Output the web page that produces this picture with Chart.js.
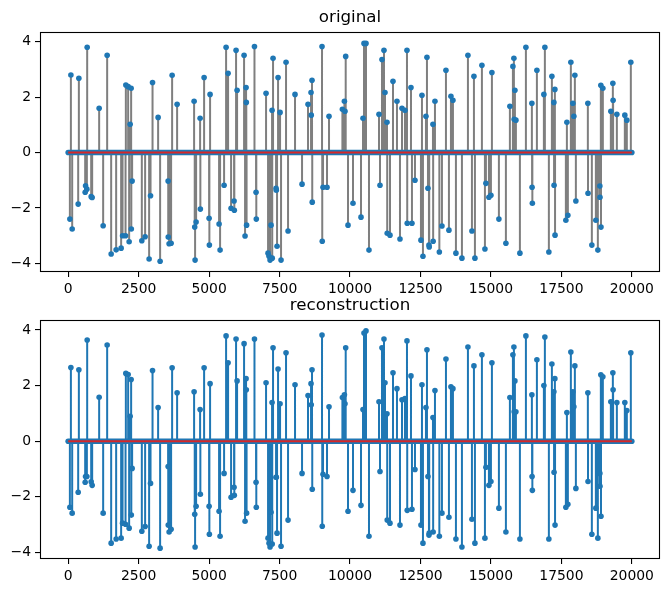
<!DOCTYPE html>
<html><head><meta charset="utf-8">
<script src="https://cdn.jsdelivr.net/npm/chart.js@4.4.0/dist/chart.umd.min.js"></script>
<style>
html,body{margin:0;padding:0;background:#fff;width:670px;height:592px;overflow:hidden}
canvas{position:absolute;left:0}
</style></head><body>
<canvas id="c1" width="670" height="300" style="top:2px"></canvas>
<canvas id="c2" width="670" height="299" style="top:290px"></canvas>
<script>
// ---- data ----
const signalStart = 0;
const signalEnd = 19999;
const xTicks = [0, 2500, 5000, 7500, 10000, 12500, 15000, 17500, 20000];
const yTicks = [-4, -2, 0, 2, 4];
const titles = ["original", "reconstruction"];

const spikeIndex = [
  60,96,142,355,379,603,617,663,674,816,851,1099,1241,1383,1525,1702,1879,1929,2035,2046,2128,2163,2199,2234,2240,2269,2613,2730,2872,2922,2993,
  3191,3262,3546,3550,3581,3652,3688,3865,4468,4490,4503,4539,4681,4690,4823,5000,5010,5035,5354,5390,5532,5603,5674,5780,5886,5895,5957,5993,6241,6276,6312,6320,6330,
  6610,6666,6675,7021,7092,7127,7163,7198,7234,7240,7269,7376,7385,7411,7447,7518,7553,7730,7801,8049,8298,8510,8617,8625,8652,8660,9007,9015,9042,9184,9255,9730,9801,9822,9847,
  9929,10106,10390,10461,10496,10567,10673,11028,11064,11134,11205,11241,11312,11320,11418,11525,11666,11773,11844,11950,12021,12030,12163,12198,12305,12517,12553,12588,12695,12730,12766,12801,12810,12943,12950,13014,13170,
  13262,13404,13510,13581,13652,13758,13971,14184,14326,14397,14432,14680,14787,14822,14929,15000,15035,15283,15531,15673,15780,15815,15825,15851,15886,16028,16241,16453,16460,16470,
  16631,16879,16914,17056,17163,17234,17240,17269,17275,17659,17695,17730,17836,17907,17943,17978,18014,18439,18445,18581,18723,18794,18865,18870,18900,18905,18971,19255,19326,19335,19468,19751,19822,19964
];

const originalValues = [
  -2.40,2.80,-2.76,-1.86,2.68,-1.43,-1.20,-1.32,3.80,-1.59,-1.62,1.60,-2.64,3.51,-3.66,-3.51,-3.45,-3.00,-3.00,2.44,2.38,-3.22,1.02,2.32,-2.76,-1.03,-3.18,-3.04,-3.84,-1.56,2.53,
  1.27,-3.92,-1.03,-3.05,-3.29,-3.27,2.79,1.74,1.85,-2.69,-3.88,-2.51,1.24,-2.04,2.71,-2.37,-3.34,2.10,-2.58,-3.52,-1.18,3.80,2.86,-2.01,-1.75,-2.08,3.69,2.25,3.51,-3.01,2.35,1.81,-2.62,
  3.83,-1.43,-2.40,2.14,-3.63,-3.74,-3.88,-2.62,1.53,-3.81,3.40,-1.29,-1.36,-3.38,2.71,1.45,-3.88,3.26,-2.83,2.10,-1.14,1.74,2.17,1.35,2.61,-1.79,3.83,-3.20,-1.25,-1.25,1.31,1.56,1.85,1.49,3.47,
  -2.62,-1.83,-2.33,1.24,3.94,3.94,-3.52,1.38,-1.18,3.36,3.69,2.17,1.09,-2.91,-2.98,2.57,1.85,-3.12,1.60,1.53,3.69,-2.55,2.35,-2.55,-1.00,-3.16,2.07,-3.74,1.31,3.44,-1.29,-3.34,-3.41,1.02,-3.20,1.85,-3.59,
  -2.65,2.97,-2.80,2.03,1.89,-3.63,-3.81,3.51,-2.83,2.75,-3.81,3.15,-3.48,-1.11,-1.61,-1.54,2.89,-2.40,-3.27,1.67,3.11,3.40,1.20,2.25,1.17,-3.63,3.80,1.78,-1.25,-1.83,
  2.97,2.10,3.80,-3.59,2.75,1.81,-1.18,2.28,-2.98,-2.44,1.09,-2.26,3.26,1.78,1.31,2.79,-1.75,1.78,-1.47,-3.34,-2.44,-3.52,-1.21,-1.61,2.43,-2.69,2.32,1.49,2.50,1.89,1.38,1.35,1.17,3.26
];

const reconstructionValues = [
  -2.38,2.65,-2.59,-1.84,2.57,-1.48,-1.27,-1.27,3.64,-1.46,-1.59,1.58,-2.59,3.46,-3.67,-3.52,-3.49,-2.95,-2.99,2.44,2.40,-3.13,0.90,2.22,-2.66,-0.98,-3.24,-3.07,-3.78,-1.52,2.54,
  1.21,-3.85,-0.91,-3.02,-3.27,-3.17,2.64,1.74,1.78,-2.63,-3.81,-2.34,1.14,-1.91,2.64,-2.34,-3.35,2.07,-2.52,-3.42,-1.16,3.79,2.82,-2.02,-1.66,-1.95,3.68,2.17,3.51,-2.88,2.25,1.85,-2.59,
  3.68,-1.48,-2.38,2.10,-3.49,-3.67,-3.81,-2.56,1.39,-3.70,3.36,-1.30,-1.30,-3.31,2.60,1.35,-3.78,3.18,-2.84,2.03,-1.16,1.64,2.07,1.31,2.57,-1.73,3.82,-3.06,-1.19,-1.27,1.24,1.57,1.67,1.35,3.36,
  -2.52,-1.77,-2.31,1.14,3.89,3.97,-3.42,1.42,-1.09,3.36,3.68,2.10,0.99,-2.84,-2.95,2.46,1.89,-3.02,1.49,1.53,3.61,-2.49,2.35,-2.45,-1.02,-3.02,2.03,-3.67,1.21,3.29,-1.27,-3.38,-3.31,0.85,-3.27,1.82,-3.42,
  -2.59,2.96,-2.74,1.96,1.89,-3.52,-3.81,3.39,-2.81,2.71,-3.67,3.11,-3.49,-0.94,-1.59,-1.45,2.82,-2.41,-3.27,1.57,3.11,3.39,1.06,2.17,1.06,-3.52,3.79,1.67,-1.27,-1.77,
  2.93,2.00,3.75,-3.52,2.78,1.78,-1.12,2.25,-3.02,-2.38,1.03,-2.27,3.21,1.78,1.24,2.71,-1.70,1.74,-1.45,-3.35,-2.41,-3.49,-1.16,-1.62,2.39,-2.70,2.32,1.42,2.46,1.85,1.39,1.39,1.10,3.18
];

// ---- styling ----
const BLUE = '#1f77b4', GREY = '#7f7f7f', RED = '#d62728';
const FONT = 'DejaVu Sans';

const framePlugin = {
  id: 'frame',
  afterDraw(chart) {
    const a = chart.chartArea, ctx = chart.ctx;
    ctx.save();
    ctx.strokeStyle = '#000';
    ctx.lineWidth = 1.1;
    ctx.strokeRect(Math.round(a.left) + 0.5, Math.round(a.top) + 0.5,
                   Math.round(a.right - a.left) - 1, Math.round(a.bottom - a.top) - 1);
    ctx.restore();
  }
};

function fmt(v) { return v < 0 ? '\u2212' + Math.abs(v) : String(v); }

function makeChart(id, title, values, stemColor, yMin, yMax) {
  const stems = [];
  spikeIndex.forEach((x, i) => {
    stems.push({x: x, y: 0}, {x: x, y: values[i]}, {x: x, y: null});
  });
  const markers = spikeIndex.map((x, i) => ({x: x, y: values[i]}));
  const zeroLine = [{x: signalStart, y: 0}, {x: signalEnd, y: 0}];

  return new Chart(document.getElementById(id), {
    type: 'scatter',
    data: {
      datasets: [
        {data: stems, showLine: true, spanGaps: false, borderColor: stemColor, borderWidth: 2,
         pointRadius: 0, order: 4},
        {data: zeroLine, showLine: true, borderColor: BLUE, borderWidth: 5.6, borderCapStyle: 'round',
         pointRadius: 0, order: 3},
        {data: markers, showLine: false, pointRadius: 2.8, pointBackgroundColor: BLUE,
         pointBorderWidth: 0, pointBorderColor: BLUE, order: 2},
        {data: zeroLine, showLine: true, borderColor: RED, borderWidth: 2, pointRadius: 0, order: 1}
      ]
    },
    options: {
      responsive: false,
      animation: false,
      devicePixelRatio: 1,
      layout: {padding: {left: 0, right: 10, top: 0, bottom: 0}},
      plugins: {
        legend: {display: false},
        tooltip: {enabled: false},
        title: {display: true, text: title, fullSize: false, color: '#000',
                font: {family: FONT, size: 16.7, weight: 'normal'},
                padding: {top: 6, bottom: 4}}
      },
      scales: {
        x: {
          type: 'linear', min: -999.95, max: 20998.95,
          afterBuildTicks: s => { s.ticks = xTicks.map(v => ({value: v})); },
          afterFit: s => { s.height = 30; },
          ticks: {autoSkip: false, maxRotation: 0, minRotation: 0, color: '#000', padding: 4,
                  font: {family: FONT, size: 13.9}, callback: v => fmt(v)},
          grid: {drawOnChartArea: false, drawTicks: true, tickLength: 5, color: '#000', lineWidth: 1.1},
          border: {display: false}
        },
        y: {
          type: 'linear', min: yMin, max: yMax,
          afterBuildTicks: s => { s.ticks = yTicks.map(v => ({value: v})); },
          afterFit: s => { s.width = 40; },
          ticks: {autoSkip: false, color: '#000', padding: 4,
                  font: {family: FONT, size: 13.9}, callback: v => fmt(v)},
          grid: {drawOnChartArea: false, drawTicks: true, tickLength: 5, color: '#000', lineWidth: 1.1},
          border: {display: false}
        }
      }
    },
    plugins: [framePlugin]
  });
}

makeChart('c1', titles[0], originalValues, GREY, -4.31, 4.35);
makeChart('c2', titles[1], reconstructionValues, BLUE, -4.24, 4.36);
</script>
</body></html>
